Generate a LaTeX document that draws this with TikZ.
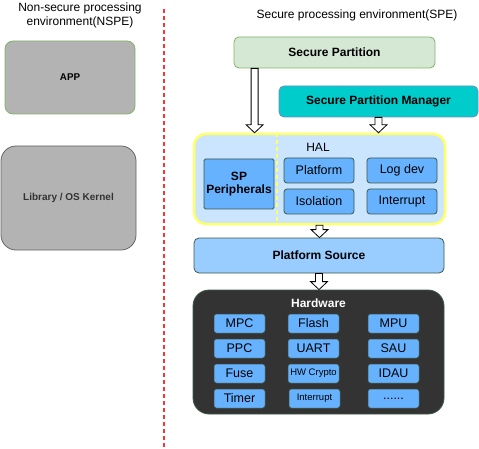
\documentclass[tikz,border=0pt]{standalone}
\usepackage{fontspec}
\setmainfont{Liberation Sans}
\usepackage{tikz}
\usetikzlibrary{positioning}
\usetikzlibrary{calc}

\definecolor{grayfill}{HTML}{B3B3B3}
\definecolor{greenline}{HTML}{82B366}
\definecolor{greenfill}{HTML}{D5E8D4}
\definecolor{tealfill}{HTML}{00CCCC}
\definecolor{tealline}{HTML}{6C8EBF}
\definecolor{halfill}{HTML}{CCE5FF}
\definecolor{halline}{HTML}{FFFF66}
\definecolor{cellfill}{HTML}{66B2FF}
\definecolor{cellline}{HTML}{3B5A45}
\definecolor{srcfill}{HTML}{99CCFF}
\definecolor{hwfill}{HTML}{333333}
\definecolor{divider}{HTML}{FF3333}

% hollow block arrow, straight down from #1 to the top of #2
\newcommand{\hollowarrow}[2]{%
  \draw[line width=0.8pt, fill=white] let \p1=(#1), \p2=(#2) in
    (\x1-3.5pt,\y1) -- (\x1-3.5pt,\y2+8pt) -- (\x1-8.5pt,\y2+8pt) -- (\x1,\y2)
    -- (\x1+8.5pt,\y2+8pt) -- (\x1+3.5pt,\y2+8pt) -- (\x1+3.5pt,\y1) -- cycle;}

\begin{document}
\begin{tikzpicture}[x=1pt, y=-1pt,
    box/.style={draw, inner sep=0pt, align=center, line width=0.8pt},
    halcell/.style={box, fill=cellfill, draw=cellline, rounded corners=3pt,
      minimum width=70pt, minimum height=25pt, font=\fontsize{12.5}{14}\selectfont},
    hwcell/.style={box, fill=cellfill, draw=cellline, line width=0.5pt, rounded corners=2.5pt,
      minimum width=51pt, minimum height=19pt, font=\fontsize{12.5}{14}\selectfont},
    smallcell/.style={hwcell, font=\fontsize{9.5}{11}\selectfont},
    title/.style={align=center, font=\fontsize{12}{14}\selectfont}]

    \useasboundingbox (0,0) rectangle (479,449);

    % Non-secure side
    \node[title] (nspe) at (80,15) {Non-secure processing\\environment(NSPE)};
    \node[box, fill=grayfill, draw=greenline, rounded corners=8pt,
      minimum width=130pt, minimum height=73pt,
      font=\bfseries\fontsize{9.8}{11}\selectfont] (app) at (70,77.5) {APP};
    \node[box, fill=grayfill, draw=black!60, rounded corners=15pt,
      minimum width=135pt, minimum height=104pt, text=black!80,
      font=\bfseries\fontsize{10}{12}\selectfont] (lib) at (68.5,198) {Library / OS Kernel};

    % Divider
    \coordinate (divtop) at (164,9);
    \coordinate (divbot) at (164,449);
    \draw[divider, line width=1.8pt, dash pattern=on 4pt off 3pt] (divtop) -- (divbot);

    % Secure side
    \node[title] (spe) at (357,15) {Secure processing environment(SPE)};
    \node[box, fill=greenfill, draw=greenline, rounded corners=5pt,
      minimum width=201pt, minimum height=31pt,
      font=\bfseries\fontsize{12}{14}\selectfont] (sp) at (334.5,52.5) {Secure Partition};
    \node[box, fill=tealfill, draw=tealline, rounded corners=5pt,
      minimum width=199pt, minimum height=31pt,
      font=\bfseries\fontsize{12}{14}\selectfont] (spm) at (378.5,101.5) {Secure Partition Manager};

    % HAL
    \node[box, fill=halfill, draw=halline, line width=2.5pt, rounded corners=12pt,
      minimum width=251pt, minimum height=90pt] (hal) at (319.5,179) {};
    \draw[halline, line width=1.5pt, dash pattern=on 4pt off 3pt]
      ([xshift=84pt]hal.north west) -- ([xshift=84pt]hal.south west);
    \node[font=\fontsize{12}{14}\selectfont] (hallabel) at (318,147) {HAL};
    \node[halcell, rounded corners=1.5pt, minimum height=50pt,
      font=\bfseries\fontsize{12}{13.5}\selectfont] (spp) at (239,184) {SP\\Peripherals};
    \node[halcell] (plat) at (319,170.5) {Platform};
    \node[halcell] (logdev) at (402,170.5) {Log dev};
    \node[halcell] (iso) at (319,201.5) {Isolation};
    \node[halcell] (intr) at (402,201.5) {Interrupt};

    % Platform source
    \node[box, fill=srcfill, draw=cellline, rounded corners=5pt,
      minimum width=250pt, minimum height=35pt,
      font=\bfseries\fontsize{12}{14}\selectfont] (ps) at (319,255.5) {Platform Source};

    % Hardware
    \node[box, fill=hwfill, draw=cellline, rounded corners=16pt,
      minimum width=251pt, minimum height=124pt] (hw) at (318.5,352) {};
    \node[text=white, font=\bfseries\fontsize{12}{14}\selectfont] (hwlabel) at (318.5,303) {Hardware};
    \node[hwcell] (mpc) at (239.5,323.5) {MPC};
    \node[hwcell] (ppc) at (239.5,348.5) {PPC};
    \node[hwcell] (fuse) at (239.5,373.5) {Fuse};
    \node[hwcell] (timer) at (239.5,398.5) {Timer};
    \node[hwcell] (flash) at (313.5,323.5) {Flash};
    \node[hwcell] (uart) at (313.5,348.5) {UART};
    \node[smallcell] (crypto) at (313.5,373.5) {HW Crypto};
    \node[smallcell] (hwint) at (314.5,398.5) {Interrupt};
    \node[hwcell] (mpu) at (393.5,323.5) {MPU};
    \node[hwcell] (sau) at (393.5,348.5) {SAU};
    \node[hwcell] (idau) at (393.5,373.5) {IDAU};
    \node[hwcell] (more) at (393.5,398.5) {......};

    % Flow arrows
    \hollowarrow{[xshift=21pt]sp.south west}{hal.north}
    \hollowarrow{spm.south}{hal.north}
    \hollowarrow{hal.south}{ps.north}
    \hollowarrow{ps.south}{hw.north}

\end{tikzpicture}
\end{document}
